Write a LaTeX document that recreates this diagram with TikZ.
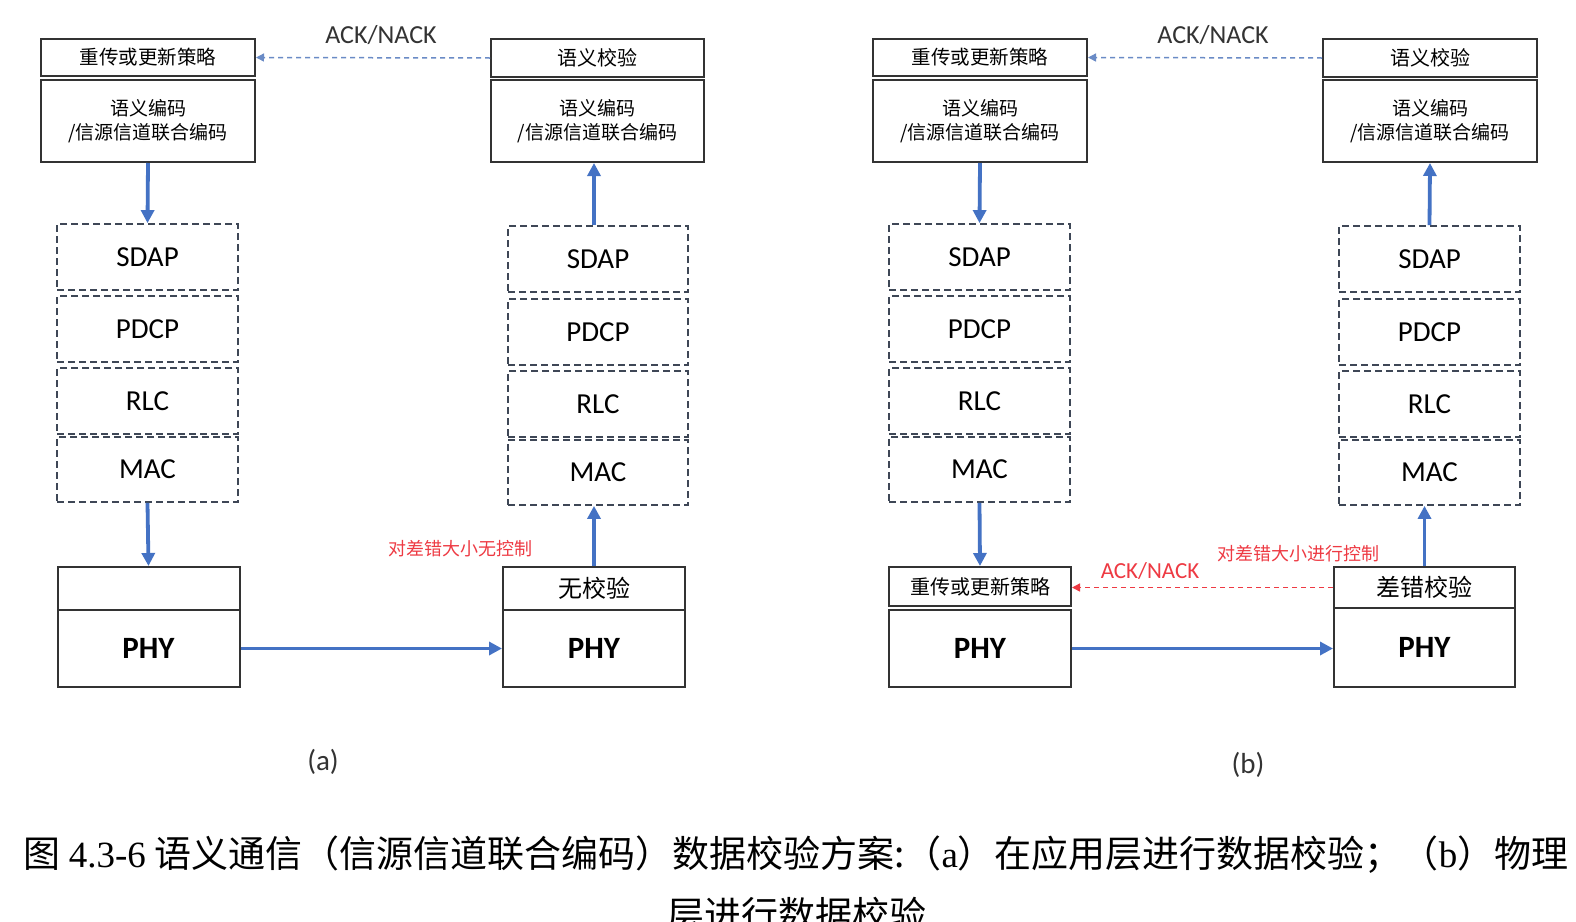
\documentclass[tikz,border=0pt]{standalone}
\usepackage{fontspec}
\setmainfont{Liberation Serif}
\newfontfamily\cjk{Noto Sans CJK SC}
\newfontfamily\lat{Carlito}
\usetikzlibrary{arrows.meta}
\definecolor{boxc}{HTML}{333333}
\definecolor{dashc}{HTML}{3E4756}
\definecolor{bluec}{HTML}{4472C4}
\definecolor{ackc}{HTML}{6A8BC6}
\definecolor{redc}{HTML}{EE3A43}
\tikzset{
  box/.style={draw=boxc, line width=2pt, fill=white, inner sep=0pt, align=center},
  dbox/.style={draw=dashc, line width=1.8pt, dash pattern=on 7pt off 4pt, inner sep=0pt, minimum width=181pt, minimum height=66pt, font=\lat\fontsize{29}{32}\selectfont},
  cj/.style={font=\cjk\fontsize{#1}{24}\selectfont},
  phy/.style={box, minimum width=182pt, minimum height=77pt, font=\lat\bfseries\fontsize{31}{34}\selectfont},
  arr/.style={draw=bluec, line width=3.8pt, -{Triangle[length=13pt,width=13pt]}},
  ack/.style={draw=ackc, line width=1.5pt, dash pattern=on 5pt off 4pt, -{Triangle[length=8pt,width=8pt]}},
  rack/.style={draw=redc, line width=1.5pt, dash pattern=on 5pt off 4pt, -{Triangle[length=8pt,width=8pt]}},
}
\begin{document}
\begin{tikzpicture}[x=1pt,y=-1pt]
\useasboundingbox[fill=white] (0,0) rectangle (1576,921);

% ---------------- panel (a) ----------------
\node[box, cj=19.5, minimum width=214pt, minimum height=37pt] (aTop) at (148,57.5) {重传或更新策略};
\node[box, cj=19, minimum width=214pt, minimum height=82pt] (aEnc) at (148,121) {语义编码\\/信源信道联合编码};
\node[dbox] (aSDAP) at (147.5,257) {SDAP};
\node[dbox] (aPDCP) at (147.5,329) {PDCP};
\node[dbox] (aRLC) at (147.5,401) {RLC};
\node[dbox, minimum height=65pt] (aMAC) at (147.5,469.5) {MAC};
\node[box, minimum width=182pt, minimum height=43pt] (aEmpty) at (148.5,588.5) {};
\node[phy] (aPHY) at (148.5,648.5) {PHY};

\node[box, cj=20, minimum width=213pt, minimum height=38pt] (arTop) at (597.5,58) {语义校验};
\node[box, cj=19, minimum width=213pt, minimum height=82pt] (arEnc) at (597.5,121) {语义编码\\/信源信道联合编码};
\node[dbox, minimum width=180pt] (arSDAP) at (598,259) {SDAP};
\node[dbox, minimum width=180pt] (arPDCP) at (598,332) {PDCP};
\node[dbox, minimum width=180pt] (arRLC) at (598,404) {RLC};
\node[dbox, minimum width=180pt, minimum height=65pt] (arMAC) at (598,472.5) {MAC};
\node[box, cj=24, minimum width=182pt, minimum height=43pt] (arChk) at (594,588.5) {无校验};
\node[phy] (arPHY) at (594,648.5) {PHY};

\draw[arr] (aEnc.south) -- (aSDAP.north);
\draw[arr] (aMAC.south) -- (aEmpty.north);
\draw[arr] (aPHY.east) -- (arPHY.west);
\draw[arr] (arChk.north) -- (arChk.north |- arMAC.south);
\draw[arr] (arChk.north |- arSDAP.north) -- (arChk.north |- arEnc.south);
\draw[ack] (arTop.west) -- (aTop.east);
\node[font=\lat\fontsize{26}{30}\selectfont, text=black!80] (aAck) at (381,35) {ACK/NACK};
\node[cj=18, text=redc] (aRed) at (460,549) {对差错大小无控制};
\node[font=\lat\fontsize{29}{32}\selectfont, text=black!80] (labA) at (323,762) {(a)};

% ---------------- panel (b) ----------------
\node[box, cj=19.5, minimum width=214pt, minimum height=37pt] (bTop) at (980,57.5) {重传或更新策略};
\node[box, cj=19, minimum width=214pt, minimum height=82pt] (bEnc) at (980,121) {语义编码\\/信源信道联合编码};
\node[dbox] (bSDAP) at (979.5,257) {SDAP};
\node[dbox] (bPDCP) at (979.5,329) {PDCP};
\node[dbox] (bRLC) at (979.5,401) {RLC};
\node[dbox, minimum height=65pt] (bMAC) at (979.5,469.5) {MAC};
\node[box, cj=20, minimum width=182pt, minimum height=39pt] (bRe) at (980,586.5) {重传或更新策略};
\node[phy] (bPHY) at (980,648.5) {PHY};

\node[box, cj=20, minimum width=214pt, minimum height=38pt] (brTop) at (1430,58) {语义校验};
\node[box, cj=19, minimum width=214pt, minimum height=82pt] (brEnc) at (1430,121) {语义编码\\/信源信道联合编码};
\node[dbox] (brSDAP) at (1429.5,259) {SDAP};
\node[dbox] (brPDCP) at (1429.5,332) {PDCP};
\node[dbox] (brRLC) at (1429.5,404) {RLC};
\node[dbox, minimum height=65pt] (brMAC) at (1429.5,472.5) {MAC};
\node[box, cj=24, minimum width=181pt, minimum height=41pt] (brChk) at (1424.5,587.5) {差错校验};
\node[phy, minimum width=181pt, minimum height=79pt] (brPHY) at (1424.5,647.5) {PHY};

\draw[arr] (bEnc.south) -- (bSDAP.north);
\draw[arr] (bMAC.south) -- (bRe.north);
\draw[arr] (bPHY.east) -- (bPHY.east -| brPHY.west);
\draw[arr] (brChk.north) -- (brChk.north |- brMAC.south);
\draw[arr] (brSDAP.north) -- (brEnc.south);
\draw[ack] (brTop.west) -- (bTop.east);
\draw[rack] (brChk.west) -- (brChk.west -| bRe.east);
\node[font=\lat\fontsize{26}{30}\selectfont, text=black!80] (bAck) at (1213,35) {ACK/NACK};
\node[font=\lat\fontsize{23}{26}\selectfont, text=redc] (bRAck) at (1150,571) {ACK/NACK};
\node[cj=18, text=redc] (bRed) at (1298,554) {对差错大小进行控制};
\node[font=\lat\fontsize{29}{32}\selectfont, text=black!80] (labB) at (1248,765) {(b)};

% ---------------- caption ----------------
\node[cj=37, inner sep=0pt] (cap1) at (796,855) {图 {\rmfamily 4.3-6} 语义通信（信源信道联合编码）数据校验方案:（{\rmfamily a}）在应用层进行数据校验；（{\rmfamily b}）物理};
\node[cj=37, inner sep=0pt] (cap2) at (797,914) {层进行数据校验};
\end{tikzpicture}
\end{document}
